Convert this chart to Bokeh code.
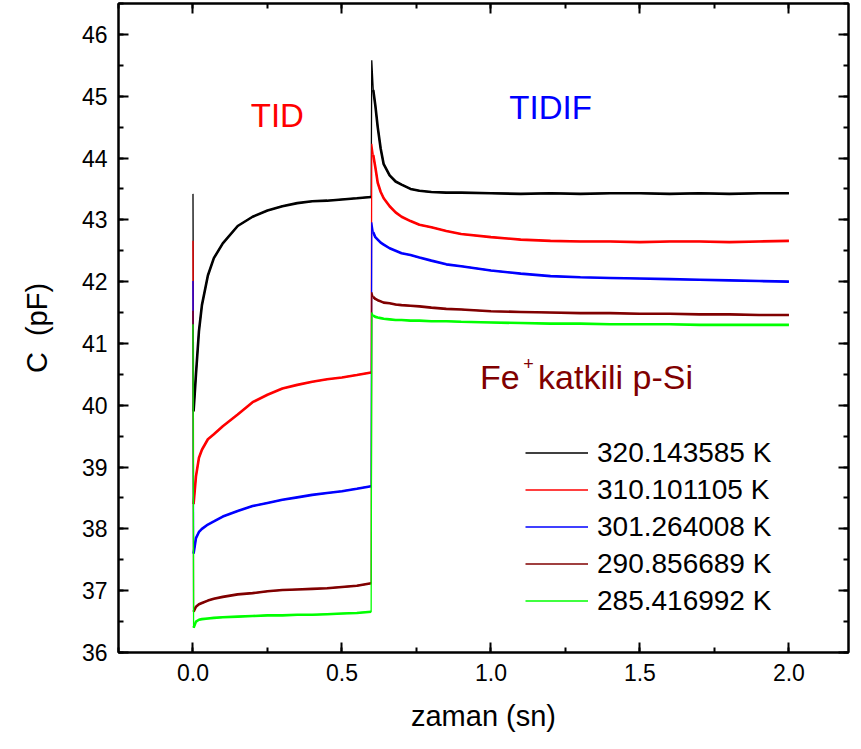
import numpy as np
from bokeh.plotting import figure
from bokeh.models import (Range1d, LinearAxis, SingleIntervalTicker, NumeralTickFormatter,
                          Legend, LegendItem, Label)
from bokeh.embed import file_html
from bokeh.resources import INLINE

# ---------------- data ----------------
t = [0.0, 0.002, 0.01, 0.02, 0.03, 0.05, 0.07, 0.1, 0.15, 0.2,
     0.25, 0.3, 0.35, 0.4, 0.45, 0.5, 0.55, 0.598,
     0.6, 0.605, 0.612, 0.62, 0.63, 0.64, 0.66, 0.68, 0.7, 0.73,
     0.76, 0.8, 0.85, 0.9, 1.0, 1.1, 1.2, 1.3, 1.4, 1.5,
     1.6, 1.7, 1.8, 1.9, 2.0]

c_320 = [43.42, 39.9, 40.5, 41.2, 41.62, 42.1, 42.38, 42.62, 42.9, 43.05,
         43.15, 43.22, 43.27, 43.3, 43.31, 43.33, 43.35, 43.37,
         45.58, 45.1, 44.85, 44.5, 44.15, 43.9, 43.72, 43.62, 43.57, 43.5,
         43.47, 43.45, 43.44, 43.44, 43.43, 43.42, 43.43, 43.42, 43.43, 43.43,
         43.42, 43.43, 43.42, 43.43, 43.43]

c_310 = [42.66, 38.4, 38.85, 39.15, 39.28, 39.45, 39.53, 39.66, 39.85, 40.05,
         40.17, 40.27, 40.33, 40.38, 40.42, 40.45, 40.49, 40.53,
         44.23, 44.05, 43.85, 43.6, 43.45, 43.35, 43.22, 43.12, 43.05, 42.98,
         42.92, 42.88, 42.82, 42.77, 42.72, 42.68, 42.66, 42.65, 42.65, 42.64,
         42.65, 42.65, 42.64, 42.65, 42.66]

c_301 = [42.01, 37.6, 37.85, 37.95, 38.0, 38.07, 38.12, 38.2, 38.29, 38.37,
         38.42, 38.47, 38.51, 38.55, 38.58, 38.61, 38.65, 38.69,
         42.96, 42.8, 42.72, 42.68, 42.63, 42.6, 42.54, 42.5, 42.46, 42.43,
         42.39, 42.34, 42.28, 42.25, 42.18, 42.13, 42.09, 42.07, 42.06, 42.05,
         42.04, 42.03, 42.02, 42.01, 42.0]

c_290 = [41.53, 36.66, 36.74, 36.78, 36.8, 36.84, 36.87, 36.9, 36.94, 36.96,
         36.99, 37.01, 37.02, 37.03, 37.04, 37.06, 37.08, 37.12,
         41.83, 41.75, 41.72, 41.7, 41.68, 41.66, 41.65, 41.63, 41.62, 41.61,
         41.6, 41.58, 41.56, 41.55, 41.52, 41.51, 41.5, 41.49, 41.49, 41.48,
         41.48, 41.47, 41.47, 41.46, 41.46]

c_285 = [41.31, 36.4, 36.5, 36.53, 36.54, 36.55, 36.56, 36.57, 36.58, 36.59,
         36.6, 36.6, 36.61, 36.61, 36.62, 36.63, 36.64, 36.66,
         41.5, 41.45, 41.43, 41.42, 41.41, 41.4, 41.39, 41.38, 41.38, 41.37,
         41.37, 41.36, 41.36, 41.35, 41.34, 41.33, 41.32, 41.32, 41.31, 41.31,
         41.31, 41.3, 41.3, 41.3, 41.3]

labels = ["320.143585 K", "310.101105 K", "301.264008 K", "290.856689 K", "285.416992 K"]
series = [c_320, c_310, c_301, c_290, c_285]
colors = ["#000000", "#ff0000", "#0000ff", "#800000", "#00ff00"]

FONT = "Liberation Sans"

p = figure(width=861, height=749, output_backend="svg", toolbar_location=None,
           x_range=Range1d(-0.25, 2.2), y_range=Range1d(36, 46.5),
           min_border_left=118, min_border_right=13, min_border_top=3, min_border_bottom=97)
p.background_fill_color = "white"
p.border_fill_color = "white"
p.outline_line_color = "black"
p.outline_line_width = 2
p.xgrid.visible = False
p.ygrid.visible = False

xt = SingleIntervalTicker(interval=0.5, num_minor_ticks=2)
yt = SingleIntervalTicker(interval=1, num_minor_ticks=2)

def style_axis(ax, ticker, show_labels):
    ax.ticker = ticker
    ax.axis_line_width = 2
    ax.major_tick_line_width = 2
    ax.minor_tick_line_width = 2
    ax.major_tick_in = 10
    ax.major_tick_out = 0
    ax.minor_tick_in = 5
    ax.minor_tick_out = 0
    ax.major_label_text_font = FONT
    ax.major_label_text_color = "black"
    if not show_labels:
        ax.major_label_text_font_size = "0px"
        ax.major_label_text_color = None
        ax.major_label_standoff = 0

style_axis(p.xaxis[0], xt, True)
style_axis(p.yaxis[0], yt, True)
p.xaxis[0].formatter = NumeralTickFormatter(format="0.0")
p.xaxis[0].major_label_text_font_size = "23px"
p.yaxis[0].major_label_text_font_size = "23px"
p.xaxis[0].major_label_standoff = 11
p.yaxis[0].major_label_standoff = 11
p.xaxis[0].axis_label = "zaman (sn)"
p.yaxis[0].axis_label = "C \u00a0(pF)"
for ax in (p.xaxis[0], p.yaxis[0]):
    ax.axis_label_text_font = FONT
    ax.axis_label_text_font_size = "29px"
    ax.axis_label_text_font_style = "normal"
    ax.axis_label_text_color = "black"
p.xaxis[0].axis_label_standoff = 16
p.yaxis[0].axis_label_standoff = 26

top_ax = LinearAxis()
style_axis(top_ax, xt, False)
p.add_layout(top_ax, "above")
right_ax = LinearAxis()
style_axis(right_ax, yt, False)
p.add_layout(right_ax, "right")

tt = np.array(t)
mask_a = (tt > 0.001) & (tt < 0.599)
mask_b = tt > 0.6001

items = []
for lab, ys, col in zip(labels, series, colors):
    yy = np.array(ys)
    thin = p.line(tt, yy, line_color=col, line_width=1.3)
    p.line(tt[mask_a], yy[mask_a], line_color=col, line_width=2.6)
    p.line(tt[mask_b], yy[mask_b], line_color=col, line_width=2.6)
    items.append(LegendItem(label=lab, renderers=[thin]))

legend = Legend(items=items, location=(407, 33), orientation="vertical",
                glyph_width=63, glyph_height=37, label_height=37, spacing=0,
                padding=0, margin=0, label_standoff=9,
                label_text_font=FONT, label_text_font_size="28px",
                label_text_color="black",
                border_line_alpha=0, background_fill_alpha=0)
p.add_layout(legend, "center")

p.add_layout(Label(x=0.283, y=44.68, text="TID", text_align="center", text_baseline="middle",
                   text_font=FONT, text_font_size="33px", text_color="#ff0000"))
p.add_layout(Label(x=1.2, y=44.82, text="TIDIF", text_align="center", text_baseline="middle",
                   text_font=FONT, text_font_size="33px", text_color="#0000ff"))
p.add_layout(Label(x=0.963, y=40.465, text="Fe", text_align="left", text_baseline="middle",
                   text_font=FONT, text_font_size="34px", text_color="#800000"))
p.add_layout(Label(x=1.108, y=40.68, text="+", text_align="left", text_baseline="middle",
                   text_font=FONT, text_font_size="18px", text_color="#800000"))
p.add_layout(Label(x=1.158, y=40.465, text="katkili p-Si", text_align="left", text_baseline="middle",
                   text_font=FONT, text_font_size="34px", text_color="#800000"))

open("out.html", "w").write(file_html(p, INLINE))
